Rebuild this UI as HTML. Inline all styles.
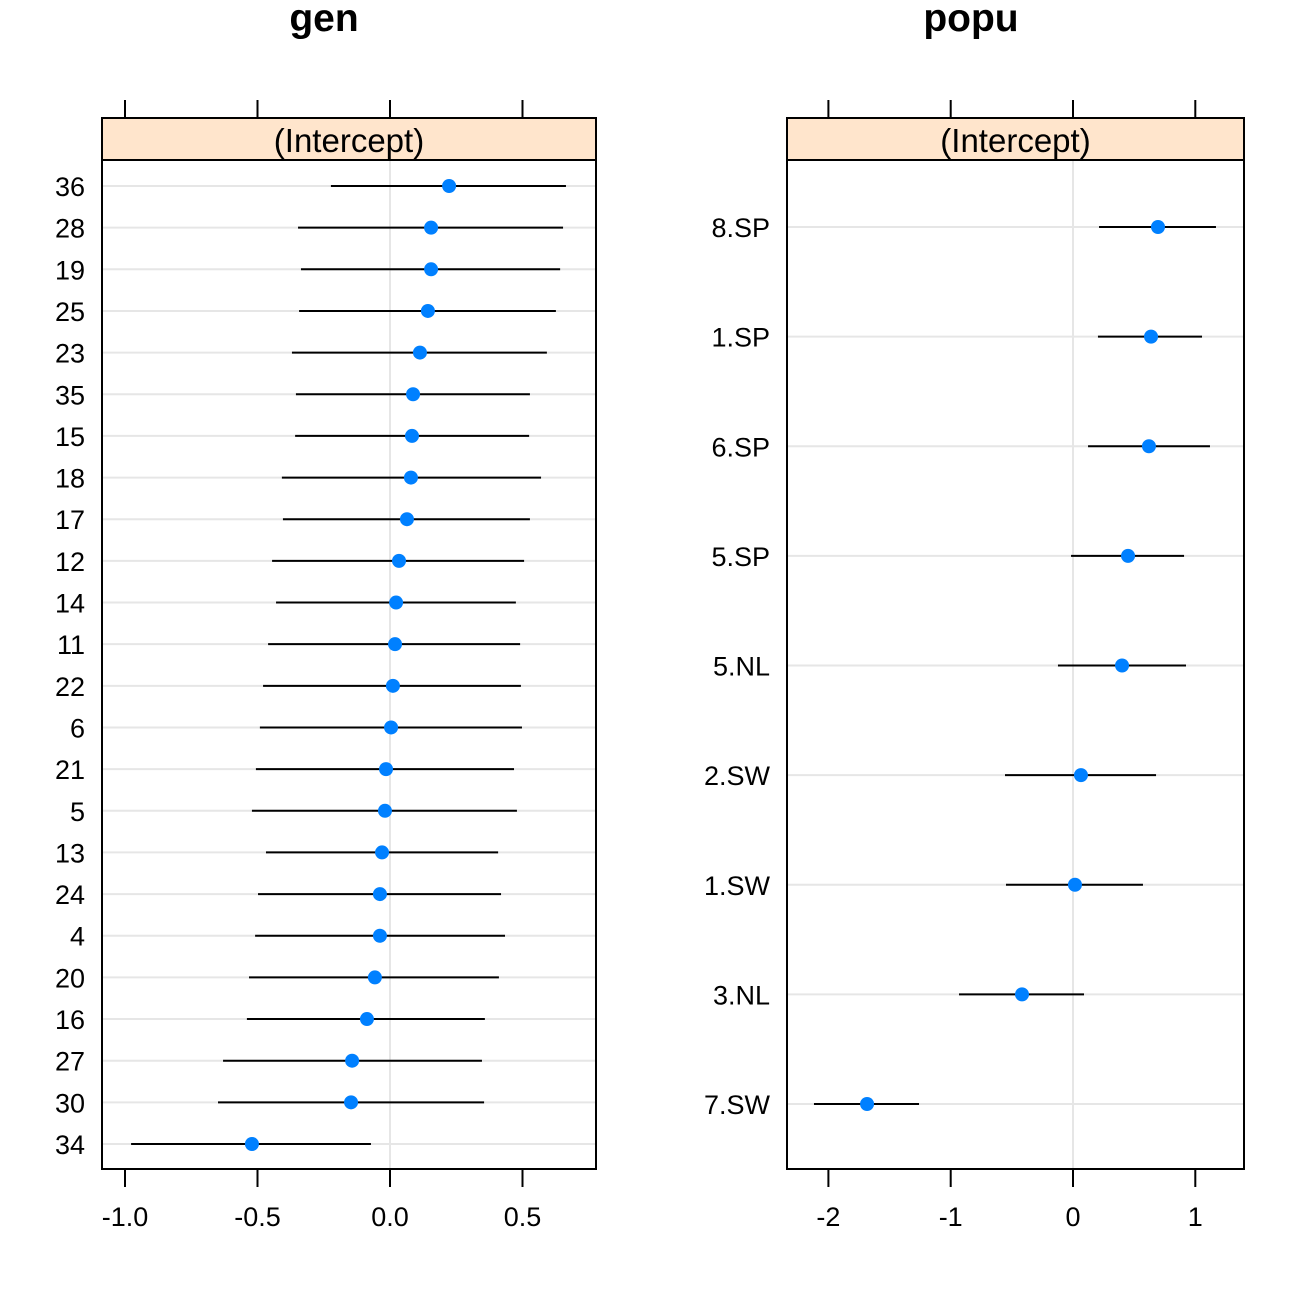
<!DOCTYPE html>
<html><head><meta charset="utf-8"><style>
body{margin:0;background:#fff}
svg{display:block;font-family:"Liberation Sans",sans-serif}
</style></head><body>
<svg id="chart" width="1296" height="1296" viewBox="0 0 1296 1296"></svg>
<script>
const genCats=["36","28","19","25","23","35","15","18","17","12","14","11","22","6","21","5","13","24","4","20","16","27","30","34"];
const genEst=[0.223,0.155,0.155,0.143,0.113,0.087,0.083,0.079,0.064,0.034,0.023,0.019,0.011,0.004,-0.015,-0.019,-0.030,-0.038,-0.038,-0.057,-0.087,-0.143,-0.147,-0.521];
const genLo=[-0.223,-0.347,-0.336,-0.343,-0.370,-0.355,-0.358,-0.408,-0.404,-0.445,-0.430,-0.460,-0.479,-0.491,-0.506,-0.521,-0.468,-0.498,-0.509,-0.532,-0.540,-0.630,-0.649,-0.977];
const genHi=[0.664,0.653,0.642,0.626,0.592,0.528,0.525,0.570,0.528,0.506,0.475,0.491,0.494,0.498,0.468,0.479,0.408,0.419,0.434,0.411,0.358,0.347,0.355,-0.072];
const genTicks=[-1.0,-0.5,0.0,0.5];
const genTickLabels=["-1.0","-0.5","0.0","0.5"];
const popCats=["8.SP","1.SP","6.SP","5.SP","5.NL","2.SW","1.SW","3.NL","7.SW"];
const popEst=[0.695,0.638,0.621,0.450,0.401,0.065,0.016,-0.417,-1.684];
const popLo=[0.213,0.204,0.123,-0.016,-0.123,-0.556,-0.548,-0.932,-2.118];
const popHi=[1.169,1.055,1.120,0.908,0.924,0.679,0.572,0.090,-1.259];
const popTicks=[-2,-1,0,1];
const popTickLabels=["-2","-1","0","1"];

const NS="http://www.w3.org/2000/svg";
const svg=document.getElementById('chart');
function mk(tag,attrs,parent,text){const e=document.createElementNS(NS,tag);for(const k in attrs)e.setAttribute(k,attrs[k]);if(text!==undefined)e.textContent=text;(parent||svg).appendChild(e);return e;}

function panel(p){
  const g=mk('g',{});
  
  
  const x=v=>p.x0+(v-p.v0)*p.scale;
  const y=i=>p.yFirst+i*(p.yLast-p.yFirst)/(p.cats.length-1);
  const t=mk('text',{x:p.titleX,y:31,'text-anchor':'middle','font-size':39,'font-weight':'bold'},g,p.title);
  
  
  p.cats.forEach((c,i)=>{const l=mk('line',{x1:p.left,x2:p.right,y1:y(i),y2:y(i),stroke:'#e6e6e6','stroke-width':2},g);
    
    });
  const z=mk('line',{x1:x(0),x2:x(0),y1:160,y2:1169,stroke:'#e6e6e6','stroke-width':2},g);
  
  
  const s=mk('rect',{x:p.left,y:118,width:p.right-p.left,height:42,fill:'#ffe5cc',stroke:'#000','stroke-width':2},g);
  
  
  const st=mk('text',{x:(p.left+p.right)/2,y:152,'text-anchor':'middle','font-size':33},g,'(Intercept)');
  
  
  const b=mk('rect',{x:p.left,y:118,width:p.right-p.left,height:1051,fill:'none',stroke:'#000','stroke-width':2},g);
  
  
  p.ticks.forEach((v,i)=>{
    const t1=mk('line',{x1:x(v),x2:x(v),y1:100,y2:118,stroke:'#000','stroke-width':2},g);
    
    
    const t2=mk('line',{x1:x(v),x2:x(v),y1:1169,y2:1187,stroke:'#000','stroke-width':2},g);
    
    
    const tl=mk('text',{x:x(v),y:1226,'text-anchor':'middle','font-size':27},g,p.tickLabels[i]);
    
    
  });
  p.cats.forEach((c,i)=>{
    const yl=mk('text',{x:p.left-17,y:y(i)+10,'text-anchor':'end','font-size':27},g,c);
    
    
    const ln=mk('line',{x1:x(p.lo[i]),x2:x(p.hi[i]),y1:y(i),y2:y(i),stroke:'#000','stroke-width':2},g);
    
    
    const pt=mk('circle',{cx:x(p.est[i]),cy:y(i),r:7,fill:'#0080ff'},g);
    
    
  });
}
panel({name:'gen',title:'gen',titleX:324,left:102,right:596,x0:390,v0:0,scale:265,yFirst:186,yLast:1144,cats:genCats,est:genEst,lo:genLo,hi:genHi,ticks:genTicks,tickLabels:genTickLabels});
panel({name:'popu',title:'popu',titleX:971,left:787,right:1244,x0:1073,v0:0,scale:122.3,yFirst:227,yLast:1104,cats:popCats,est:popEst,lo:popLo,hi:popHi,ticks:popTicks,tickLabels:popTickLabels});
</script>
</body></html>
